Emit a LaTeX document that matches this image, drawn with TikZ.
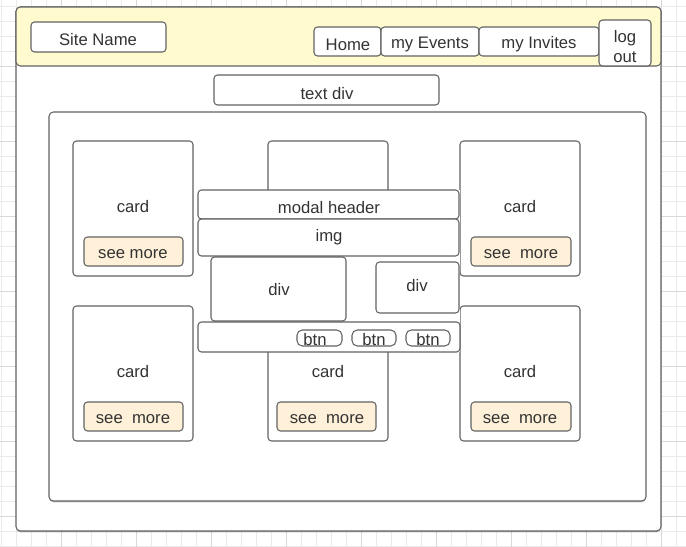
\documentclass[tikz,border=0pt]{standalone}
\usepackage{fontspec}
\setmainfont{Liberation Sans}
\usepackage{tikz}
\usetikzlibrary{fit, shadows}
\definecolor{gridminor}{HTML}{EAEAEA}
\definecolor{gridmajor}{HTML}{D8D8D8}
\definecolor{wireline}{HTML}{626262}
\definecolor{headyellow}{HTML}{FFFBCF}
\definecolor{btnorange}{HTML}{FFF1D9}
\definecolor{textgray}{HTML}{333333}

\tikzset{
	box/.style={draw=wireline, line width=0.6pt, rounded corners=2pt, fill=white, inner sep=0pt},
	seemore/.style={box, fill=btnorange},
	frame/.style={box, rounded corners=2.5pt, drop shadow={shadow xshift=0pt, shadow yshift=-0.8pt, fill=black, opacity=0.25}},
	lbl/.style={font=\fontsize{9.5}{11.4}\selectfont, text=textgray, inner sep=0pt, yshift=-0.8pt},
}

\begin{document}
\begin{tikzpicture}[x=0.02cm, y=-0.02cm]
	\useasboundingbox (0,0) rectangle (686,547);
	% background grid
	\foreach \x in {1.7,16.7,...,686}{\draw[gridminor, line width=0.5pt] (\x,0) -- (\x,547);}
	\foreach \y in {6.7,21.7,...,547}{\draw[gridminor, line width=0.5pt] (0,\y) -- (686,\y);}
	\foreach \x in {61.7,136.7,...,686}{\draw[gridmajor, line width=0.5pt] (\x,0) -- (\x,547);}
	\foreach \y in {66.7,141.7,...,547}{\draw[gridmajor, line width=0.5pt] (0,\y) -- (686,\y);}

	% page and header
	\node[frame, fit={(16,7) (661,531)}] (page) {};
	\node[box, fill=headyellow, rounded corners=2.5pt, fit={(16,7) (661,66)}] (header) {};
	\node[box, fit={(31,22) (166,52)}] (site) {};
	\node[lbl] (sitetxt) at (98,38) {Site Name};
	\node[box, fit={(314,27) (381,56)}] (home) {};
	\node[lbl] (hometxt) at (348,43) {Home};
	\node[box, fit={(381,27) (479,56)}] (events) {};
	\node[lbl] (eventstxt) at (430,43) {my Events};
	\node[box, fit={(479,27) (599,56)}] (invites) {};
	\node[lbl] (invitestxt) at (539,43) {my Invites};
	\node[box, fit={(599,20) (651,66)}] (logout) {};
	\node[lbl, align=center] (logouttxt) at (625,45) {log\\out};

	\node[box, fit={(214,75) (439,105)}] (textdiv) {};
	\node[lbl] (textdivtxt) at (327,92) {text div};
	\node[frame, fit={(49,112) (646,501)}] (main) {};

	% cards
	\node[box, fit={(73,141) (193,276)}] (card1) {};
	\node[lbl] (card1txt) at (133,205) {card};
	\node[seemore, fit={(84,237) (183,266)}] (more1) {};
	\node[lbl] (more1txt) at (133,253) {see more};

	\node[box, fit={(268,141) (388,276)}] (card2) {};

	\node[box, fit={(460,141) (580,276)}] (card3) {};
	\node[lbl] (card3txt) at (520,205) {card};
	\node[seemore, fit={(471,237) (571,266)}] (more3) {};
	\node[lbl] (more3txt) at (521,253) {see~ more};

	\node[box, fit={(73,306) (193,441)}] (card4) {};
	\node[lbl] (card4txt) at (133,370) {card};
	\node[seemore, fit={(84,402) (183,431)}] (more4) {};
	\node[lbl] (more4txt) at (133,418) {see~ more};

	\node[box, fit={(268,306) (388,441)}] (card5) {};
	\node[lbl] (card5txt) at (328,370) {card};
	\node[seemore, fit={(277,402) (376,431)}] (more5) {};
	\node[lbl] (more5txt) at (327,418) {see~ more};

	\node[box, fit={(460,306) (580,441)}] (card6) {};
	\node[lbl] (card6txt) at (520,370) {card};
	\node[seemore, fit={(471,402) (571,431)}] (more6) {};
	\node[lbl] (more6txt) at (520,418) {see~ more};

	% modal
	\node[fill=white, inner sep=0pt, fit={(198,190) (460,352)}] (modal) {};
	\node[box, fit={(198,190) (459,219)}] (mheader) {};
	\node[lbl] (mheadertxt) at (329,206) {modal header};
	\node[box, fit={(198,219) (459,256)}] (mimg) {};
	\node[lbl] (mimgtxt) at (329,236) {img};
	\node[box, fit={(211,257) (346,321)}] (mdivl) {};
	\node[lbl] (mdivltxt) at (279,288) {div};
	\node[box, fit={(376,262) (459,313)}] (mdivr) {};
	\node[lbl] (mdivrtxt) at (417,284) {div};
	\node[box, fit={(198,322) (460,352)}] (mfooter) {};
	\node[box, rounded corners=3pt, fit={(297,330) (342,346)}] (btn1) {};
	\node[lbl] (btn1txt) at (315,338) {btn};
	\node[box, rounded corners=3pt, fit={(352,330) (396,346)}] (btn2) {};
	\node[lbl] (btn2txt) at (374,338) {btn};
	\node[box, rounded corners=3pt, fit={(406,330) (450,346)}] (btn3) {};
	\node[lbl] (btn3txt) at (428,338) {btn};
\end{tikzpicture}
\end{document}
